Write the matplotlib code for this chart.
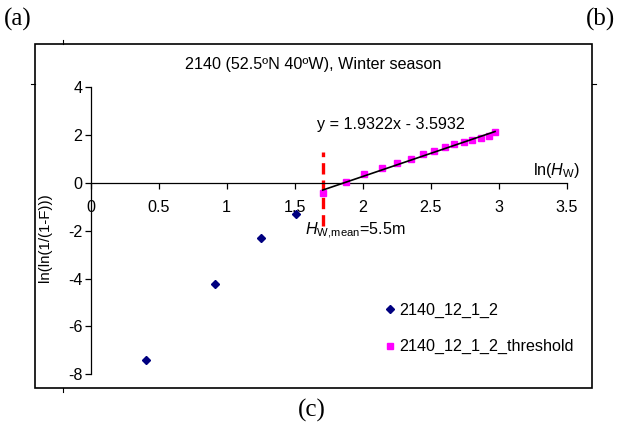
import matplotlib
matplotlib.use("Agg")
import matplotlib.pyplot as plt
from matplotlib.lines import Line2D
from matplotlib.patches import Rectangle

plt.rcParams['font.family'] = ['Liberation Sans', 'DejaVu Sans']
plt.rcParams['axes.unicode_minus'] = False
plt.rcParams['mathtext.fontset'] = 'custom'
plt.rcParams['mathtext.rm'] = 'Liberation Sans'
plt.rcParams['mathtext.it'] = 'Liberation Sans:italic'

# Data
all_x = [0.407, 0.912, 1.252, 1.507]
all_y = [-7.41, -4.24, -2.30, -1.28]
thr_x = [1.706, 1.875, 2.012, 2.144, 2.252, 2.355, 2.446, 2.524, 2.607,
         2.674, 2.743, 2.804, 2.868, 2.926, 2.973]
thr_y = [-0.44, 0.02, 0.38, 0.63, 0.85, 1.02, 1.20, 1.34, 1.49,
         1.61, 1.70, 1.80, 1.90, 1.98, 2.15]
slope, intercept = 1.9322, -3.5932
h_mean_ln = 1.705
vline_range = [-1.8, 1.3]
xticks = [0, 0.5, 1, 1.5, 2, 2.5, 3, 3.5]
yticks = [-8, -6, -4, -2, 0, 2, 4]
series_names = ['2140_12_1_2', '2140_12_1_2_threshold']
title = '2140 (52.5ºN 40ºW), Winter season'

W, H = 617, 428
fig = plt.figure(figsize=(W / 100, H / 100), dpi=100)

def fx(px):
    return px / W

def fy(py):
    return 1 - py / H

FS = 11.6

ax = fig.add_axes([fx(90.7), fy(374.3), fx(566.7) - fx(90.7), fy(87.3) - fy(374.3)])
ax.set_xlim(0, 3.5)
ax.set_ylim(-8, 4)
for s in ['top', 'right']:
    ax.spines[s].set_visible(False)
ax.spines['bottom'].set_position(('data', 0))
ax.spines['left'].set_color('black')
ax.spines['bottom'].set_color('black')
ax.spines['left'].set_linewidth(0.9)
ax.spines['bottom'].set_linewidth(0.9)
ax.set_xticks(xticks)
ax.set_xticklabels([f'{v:g}' for v in xticks])
ax.set_yticks(yticks)
ax.set_yticklabels([f'{v:g}' for v in yticks])
ax.tick_params(axis='both', direction='out', length=4, width=0.9, labelsize=FS, colors='black')
ax.tick_params(axis='x', pad=8)
ax.tick_params(axis='y', pad=2)

ax.plot(all_x, all_y, linestyle='none', marker='D', markersize=3.6,
        color='#000080', label=series_names[0], zorder=3)
ax.plot(thr_x, thr_y, linestyle='none', marker='s', markersize=4.5,
        color='#FF00FF', label=series_names[1], zorder=3)
tx = [thr_x[0], thr_x[-1]]
ax.plot(tx, [slope * v + intercept for v in tx], color='black', lw=1.2, zorder=4)
ax.plot([h_mean_ln, h_mean_ln], vline_range, color='red', lw=2.4,
        dashes=(3.4, 1.8), zorder=2)

ax.text(2.21, 2.46, f'y = {slope:.4f}x - {abs(intercept):.4f}', fontsize=FS,
        ha='center', va='center')
ax.text(1.575, -2.0, r'$\mathit{H}_{\mathrm{W,\!mean}}$=5.5m', fontsize=FS,
        ha='left', va='center')

leg = ax.legend(loc='upper left', bbox_to_anchor=(fx(380), fy(296)),
                bbox_transform=fig.transFigure, frameon=False, fontsize=FS,
                handlelength=0.5, handletextpad=0.3, labelspacing=1.35,
                markerscale=1.0, borderaxespad=0)

fig.text(fx(313.5), fy(65), title, fontsize=FS, ha='center', va='center')
fig.text(fx(580), fy(171), r'ln($\mathit{H}_{\mathrm{W}}$)', fontsize=FS,
         ha='right', va='center')
fig.text(fx(45), fy(238), 'ln(ln(1/(1-F)))', fontsize=10.8, rotation=90,
         ha='center', va='center')

# outer box and small marks
fig.add_artist(Rectangle((fx(35), fy(388)), fx(592) - fx(35), fy(44) - fy(388),
                         transform=fig.transFigure, fill=False, lw=1.2, ec='black'))
for (x0, y0, x1, y1) in [(63, 44, 63, 40), (35, 84, 31, 84), (592, 84, 596, 84), (63, 388, 63, 392)]:
    fig.add_artist(Line2D([fx(x0), fx(x1)], [fy(y0), fy(y1)], transform=fig.transFigure,
                          color='black', lw=0.8))

serif = ['Liberation Serif', 'DejaVu Serif']
fig.text(fx(4), fy(19), '(a)', fontsize=18, family=serif, ha='left', va='center')
fig.text(fx(615), fy(19), '(b)', fontsize=18, family=serif, ha='right', va='center')
fig.text(fx(312), fy(410), '(c)', fontsize=18, family=serif, ha='center', va='center')

fig.savefig('out.png', dpi=100)
